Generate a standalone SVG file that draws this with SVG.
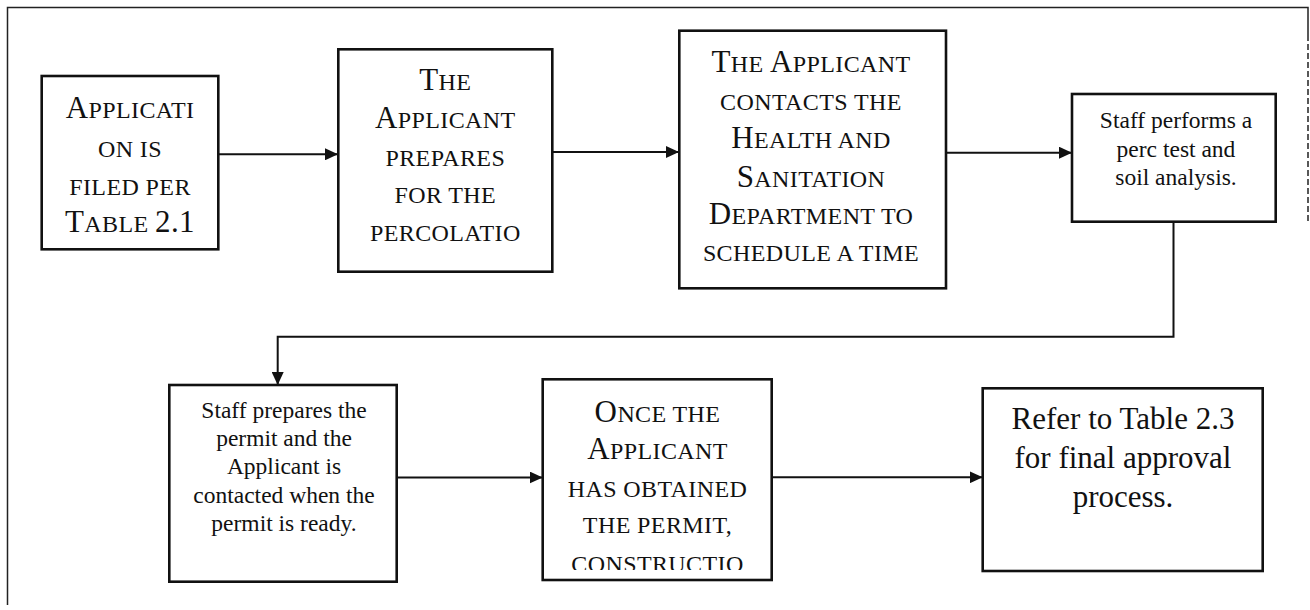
<svg xmlns="http://www.w3.org/2000/svg" width="1310" height="610" viewBox="0 0 1310 610">
<style>
.frame{fill:none;stroke:#222;stroke-width:1.5}
.box{fill:#fff;stroke:#111;stroke-width:2.6}
.conn{fill:none;stroke:#111;stroke-width:2}
.sc{font-family:"Liberation Serif","Times New Roman",serif;font-size:24px;letter-spacing:0.4px;fill:#111;text-anchor:middle}
.sc .b{font-size:31px}
.body{font-family:"Liberation Serif","Times New Roman",serif;font-size:23.5px;fill:#111;text-anchor:middle}
.big{font-family:"Liberation Serif","Times New Roman",serif;font-size:31px;fill:#111;text-anchor:middle}
</style>
<defs>
<marker id="arr" markerUnits="userSpaceOnUse" markerWidth="14" markerHeight="12" refX="13" refY="6" orient="auto">
<path d="M0,0 L13,6 L0,12 Z" fill="#111"/>
</marker>
<clipPath id="clip6"><rect x="543" y="380" width="229" height="190"/></clipPath>
</defs>
<rect width="1310" height="610" fill="#fff"/>
<g id="frame">
<path class="frame" d="M7.5,605 L7.5,7.5 L1308,7.5 L1308,35"/>
<path class="frame" d="M1308,35 L1308,224" stroke-dasharray="6,3" stroke-width="1"/>
</g>
<g id="connectors">
<path class="conn" d="M218.3,154.3 L338,154.3" marker-end="url(#arr)"/>
<path class="conn" d="M552.3,152 L679,152" marker-end="url(#arr)"/>
<path class="conn" d="M946,152.7 L1072,152.7" marker-end="url(#arr)"/>
<path class="conn" d="M1173.5,222 L1173.5,336.7 L277.7,336.7 L277.7,385" marker-end="url(#arr)"/>
<path class="conn" d="M396.7,477.5 L542.7,477.5" marker-end="url(#arr)"/>
<path class="conn" d="M771.7,477.3 L982.7,477.3" marker-end="url(#arr)"/>
</g>
<g id="node1">
<rect class="box" x="41.7" y="76" width="176.6" height="173.3"/>
<text class="sc" x="130" y="118.3"><tspan class="b">A</tspan>PPLICATI</text>
<text class="sc" x="130" y="156.7">ON IS</text>
<text class="sc" x="130" y="195">FILED PER</text>
<text class="sc" x="130" y="231.7"><tspan class="b">T</tspan>ABLE <tspan class="b">2.1</tspan></text>
</g>
<g id="node2">
<rect class="box" x="338.3" y="49.3" width="214" height="222.4"/>
<text class="sc" x="445.3" y="90"><tspan class="b">T</tspan>HE</text>
<text class="sc" x="445.3" y="127.7"><tspan class="b">A</tspan>PPLICANT</text>
<text class="sc" x="445.3" y="165.7">PREPARES</text>
<text class="sc" x="445.3" y="203.3">FOR THE</text>
<text class="sc" x="445.3" y="240.7">PERCOLATIO</text>
</g>
<g id="node3">
<rect class="box" x="679.3" y="30.7" width="266.7" height="257.6"/>
<text class="sc" x="811" y="71.7"><tspan class="b">T</tspan>HE <tspan class="b">A</tspan>PPLICANT</text>
<text class="sc" x="811" y="110">CONTACTS THE</text>
<text class="sc" x="811" y="148.3"><tspan class="b">H</tspan>EALTH AND</text>
<text class="sc" x="811" y="186.7"><tspan class="b">S</tspan>ANITATION</text>
<text class="sc" x="811" y="224"><tspan class="b">D</tspan>EPARTMENT TO</text>
<text class="sc" x="811" y="261">SCHEDULE A TIME</text>
</g>
<g id="node4">
<rect class="box" x="1072" y="94" width="203.7" height="127.7"/>
<text class="body" x="1176" y="128.3">Staff performs a</text>
<text class="body" x="1176" y="156.7">perc test and</text>
<text class="body" x="1176" y="185">soil analysis.</text>
</g>
<g id="node5">
<rect class="box" x="169.3" y="385" width="227.4" height="196.7"/>
<text class="body" x="284" y="418.3">Staff prepares the</text>
<text class="body" x="284" y="446">permit and the</text>
<text class="body" x="284" y="474">Applicant is</text>
<text class="body" x="284" y="502.7">contacted when the</text>
<text class="body" x="284" y="530.7">permit is ready.</text>
</g>
<g id="node6">
<rect class="box" x="542.7" y="379.3" width="229" height="200.7"/>
<g clip-path="url(#clip6)">
<text class="sc" x="657.5" y="421.7"><tspan class="b">O</tspan>NCE THE</text>
<text class="sc" x="657.5" y="459"><tspan class="b">A</tspan>PPLICANT</text>
<text class="sc" x="657.5" y="496.7">HAS OBTAINED</text>
<text class="sc" x="657.5" y="533.3">THE PERMIT,</text>
<text class="sc" x="657.5" y="572">CONSTRUCTIO</text>
</g>
</g>
<g id="node7">
<rect class="box" x="982.7" y="388.3" width="280" height="182.7"/>
<text class="big" x="1123" y="429.3">Refer to Table 2.3</text>
<text class="big" x="1123" y="468.3">for final approval</text>
<text class="big" x="1123" y="507">process.</text>
</g>
</svg>
